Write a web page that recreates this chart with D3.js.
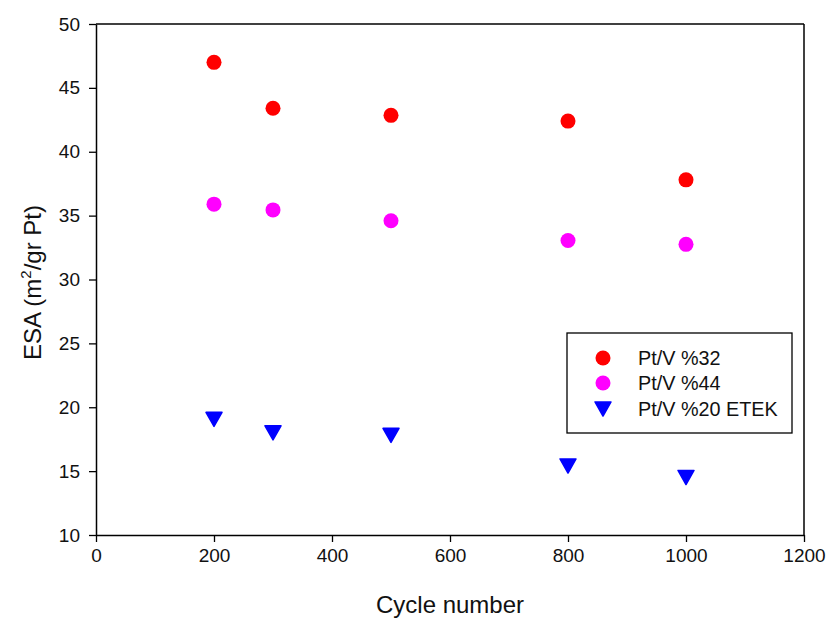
<!DOCTYPE html>
<html>
<head>
<meta charset="utf-8">
<script src="https://cdn.jsdelivr.net/npm/d3@7/dist/d3.min.js"></script>
<style>
  html, body { margin: 0; padding: 0; background: #fff; }
  svg { display: block; font-family: Arial, "Liberation Sans", sans-serif; }
</style>
</head>
<body>
<svg id="chart" width="830" height="619"></svg>
<script>
// Cycle numbers and ESA values for each catalyst
const cycles = [200, 300, 500, 800, 1000];
const pt32 = [47.0, 43.4, 42.85, 42.4, 37.8];
const pt44 = [35.9, 35.45, 34.6, 33.05, 32.75];
const pt20etek = [19.05, 18.0, 17.8, 15.4, 14.5];

const xTicks = [0, 200, 400, 600, 800, 1000, 1200];
const yTicks = [10, 15, 20, 25, 30, 35, 40, 45, 50];

const seriesNames = ["Pt/V %32", "Pt/V %44", "Pt/V %20 ETEK"];

const svg = d3.select("#chart");
const margin = { left: 96, right: 26, top: 24, bottom: 84 };
const W = 830, H = 619;

const x = d3.scaleLinear().domain([0, 1200]).range([margin.left, W - margin.right]);
const y = d3.scaleLinear().domain([10, 50]).range([H - margin.bottom, margin.top]);

const series = [
  { name: seriesNames[0], values: pt32, color: "#ff0000", shape: "circle" },
  { name: seriesNames[1], values: pt44, color: "#ff00ff", shape: "circle" },
  { name: seriesNames[2], values: pt20etek, color: "#0000ff", shape: "triangle" }
];

// Frame (top and right edges)
svg.append("line")
  .attr("x1", x(0)).attr("x2", x(1200))
  .attr("y1", y(50)).attr("y2", y(50))
  .attr("stroke", "#000").attr("stroke-width", 1.5);
svg.append("line")
  .attr("x1", x(1200)).attr("x2", x(1200))
  .attr("y1", y(50)).attr("y2", y(10))
  .attr("stroke", "#000").attr("stroke-width", 1.5);

// Axes
const xAxis = svg.append("g")
  .attr("transform", `translate(0,${y(10)})`)
  .call(d3.axisBottom(x).tickValues(xTicks).tickFormat(d3.format("d"))
    .tickSize(7).tickPadding(7).tickSizeOuter(0));
const yAxis = svg.append("g")
  .attr("transform", `translate(${x(0)},0)`)
  .call(d3.axisLeft(y).tickValues(yTicks).tickFormat(d3.format("d"))
    .tickSize(7).tickPadding(9).tickSizeOuter(0));

[xAxis, yAxis].forEach(g => {
  g.select(".domain").attr("stroke", "#000").attr("stroke-width", 1.5);
  g.selectAll(".tick line").attr("stroke", "#000").attr("stroke-width", 1.3);
  g.selectAll(".tick text")
    .attr("fill", "#111")
    .style("font-size", "19px")
    .style("font-family", "Arial, 'Liberation Sans', sans-serif");
});

// Axis titles
svg.append("text")
  .attr("x", x(600)).attr("y", 613)
  .attr("text-anchor", "middle")
  .style("font-size", "24px").attr("fill", "#111")
  .text("Cycle number");

const yTitle = svg.append("text")
  .attr("transform", `translate(41,${y(30) + 3}) rotate(-90)`)
  .attr("text-anchor", "middle")
  .style("font-size", "24px").attr("fill", "#111");
yTitle.append("tspan").text("ESA (m");
yTitle.append("tspan").attr("dy", -10).style("font-size", "15px").text("2");
yTitle.append("tspan").attr("dy", 10).text("/gr Pt)");

// Marker symbols
const circleSym = d3.symbol().type(d3.symbolCircle).size(Math.PI * 7.5 * 7.5);
const triPath = (s) => {
  // downward-pointing triangle centred on the origin
  const w = s, h = s * 0.88;
  return `M${-w / 2},${-h / 2}L${w / 2},${-h / 2}L0,${h / 2}Z`;
};

function drawMarker(g, shape, color) {
  if (shape === "circle") {
    g.append("path").attr("d", circleSym()).attr("fill", color);
  } else {
    g.append("path").attr("d", triPath(16))
      .attr("fill", color).attr("stroke", color)
      .attr("stroke-width", 1.5).attr("stroke-linejoin", "round");
  }
}

series.forEach(s => {
  s.values.forEach((v, i) => {
    const g = svg.append("g").attr("transform", `translate(${x(cycles[i])},${y(v)})`);
    drawMarker(g, s.shape, s.color);
  });
});

// Legend
const legend = svg.append("g");
legend.append("rect")
  .attr("x", 567).attr("y", 333).attr("width", 225).attr("height", 100)
  .attr("fill", "#fff").attr("stroke", "#000").attr("stroke-width", 1.3);
series.forEach((s, i) => {
  const cy = [358, 383, 409][i];
  const g = legend.append("g").attr("transform", `translate(603,${cy})`);
  drawMarker(g, s.shape, s.color);
  legend.append("text")
    .attr("x", 638).attr("y", cy + 7)
    .style("font-size", "19.8px").attr("fill", "#111")
    .text(s.name);
});
</script>
</body>
</html>
